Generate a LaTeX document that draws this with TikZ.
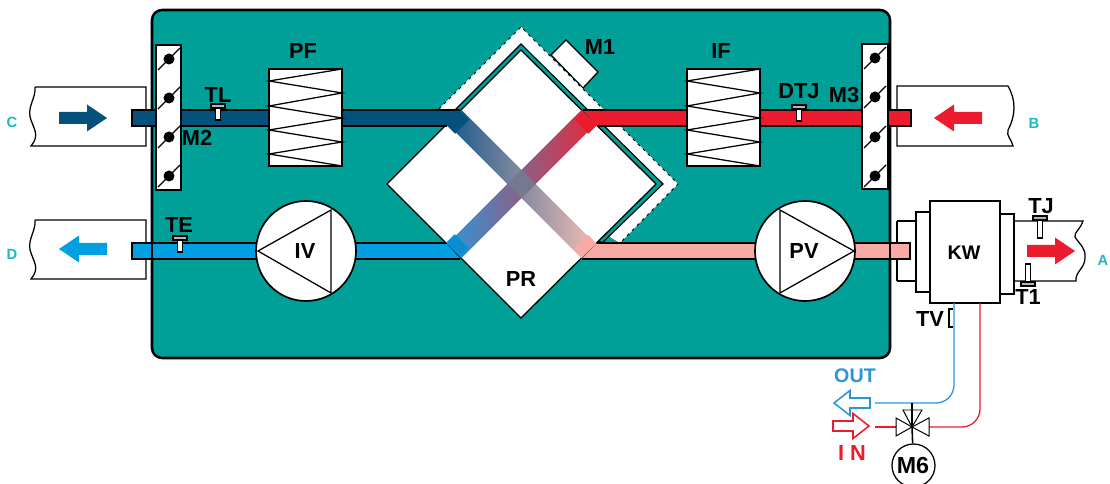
\documentclass[tikz,border=0pt]{standalone}
\usepackage{fontspec}
\setmainfont{Liberation Sans}
\setsansfont{Liberation Sans}
\usepackage{xcolor}
\usetikzlibrary{calc}
\definecolor{Casing}{HTML}{00A099}
\definecolor{FlowDark}{HTML}{04527C}
\definecolor{FlowRed}{HTML}{EC1C2E}
\definecolor{FlowLight}{HTML}{00A0E3}
\definecolor{FlowLightCap}{HTML}{0B8ED0}
\definecolor{FlowSalmon}{HTML}{F7ABA4}
\definecolor{BandDark}{HTML}{16598A}
\definecolor{BandLight}{HTML}{2E97D8}
\definecolor{BandRed}{HTML}{E8283A}
\definecolor{BandSalmon}{HTML}{F5BDB6}
\definecolor{Mixed}{HTML}{76788F}
\definecolor{PipeBlue}{HTML}{2A96D6}
\definecolor{Portname}{HTML}{1DB9C3}
\definecolor{Sensorhead}{HTML}{B5B5B5}
\tikzset{
damper/.pic={\draw[line width=1pt] (-11,11) -- (11,-11); \fill (0,0) circle[radius=5.5];},
sensor/.pic={\draw[line width=0.8pt, fill=Sensorhead] (-7,-2) rectangle (7,2); \draw[line width=0.9pt, fill=white] (-2.5,2) rectangle (2.5,14);},
longsensor/.pic={\draw[line width=0.8pt, fill=Sensorhead] (-7,-2) rectangle (7,2); \draw[line width=0.9pt, fill=white] (-2.5,2) rectangle (2.5,20);},
flowarrow/.pic={\path[pic actions] (-24,-6) -- (4,-6) -- (4,-13.5) -- (24,0) -- (4,13.5) -- (4,6) -- (-24,6) -- cycle;},
hollowarrow/.pic={\path[pic actions] (-18,-5) -- (2,-5) -- (2,-12.5) -- (18,0) -- (2,12.5) -- (2,5) -- (-18,5) -- cycle;}
}
\begin{document}
\begin{tikzpicture}[x=0.25mm,y=-0.25mm,font=\sffamily,edge/.style={draw=black, line width=1.2pt},thin edge/.style={draw=black, line width=0.9pt},duct/.style={draw=black, line width=0.9pt},whitebox/.style={draw=black, fill=white, line width=1.2pt},tag/.style={text=black, font=\sffamily\bfseries\fontsize{15.5}{16}\selectfont, inner sep=0pt},port/.style={text=Portname, font=\sffamily\bfseries\fontsize{10.5}{11}\selectfont, inner sep=0pt},flowband/.style={minimum width=47.5mm, minimum height=5mm, inner sep=0pt},bandcap/.style={minimum width=3mm, minimum height=5mm, inner sep=0pt},bluepipe/.style={draw=PipeBlue, line width=0.9pt, rounded corners=4.5mm},redpipe/.style={draw=FlowRed, line width=0.9pt, rounded corners=4.5mm}]
\clip (0,0) rectangle (1110,484);
\fill[white] (0,0) rectangle (1110,484);
\draw[draw=black, fill=Casing, line width=1.8pt, rounded corners=2.5mm] (152,10) rectangle (890,358);
\draw[thin edge, fill=white] (551,55) -- (566,40) -- (598,72) -- (583,88) -- cycle;
\fill[white] (439,109) -- (521,27) -- (678,184) -- (620,243) -- (521,184) -- cycle;
\draw[draw=black, line width=0.7pt, dash pattern=on 2pt off 3pt] (439,109) -- (521,27) -- (678,184) -- (620,243);
\draw[draw=black, fill=Casing, line width=0.8pt] (455,110) -- (521,44) -- (663,184) -- (602,243) -- (521,184) -- cycle;
\draw[thin edge, fill=white] (521,50) -- (656,184) -- (521,318) -- (387,184) -- cycle;
\node[flowband, rotate=-45, left color=BandDark, middle color=Mixed, right color=BandSalmon] (bandout) at (521.5,184) {};
\node[flowband, rotate=45, left color=BandLight, middle color=Mixed, right color=BandRed] (bandin) at (521.5,184) {};
\node[rotate=45, fill=Mixed, minimum width=5mm, minimum height=5mm, inner sep=0pt] (bandcross) at (521.5,184) {};
\node[bandcap, rotate=-45, fill=FlowDark] (capdark) at (458,122.5) {};
\node[bandcap, rotate=-45, fill=FlowSalmon] (capsalmon) at (585,246) {};
\node[bandcap, rotate=45, fill=FlowLightCap] (caplight) at (457.5,245.5) {};
\node[bandcap, rotate=45, fill=FlowRed] (capred) at (585.5,122.5) {};
\draw[duct, fill=FlowDark] (460,110) -- (132,110) -- (132,126) -- (447,126);
\draw[duct, fill=FlowRed] (583,110) -- (911,110) -- (911,126) -- (597,126);
\draw[duct, fill=FlowLight] (446,243) -- (132,243) -- (132,259) -- (460,259);
\draw[duct, fill=FlowSalmon] (597,243) -- (910,243) -- (910,259) -- (582,259);
\draw[whitebox] (156,45) rectangle (181,190);
\pic at (169,59) {damper}; \pic at (169,98) {damper}; \pic at (169,137) {damper}; \pic at (169,176) {damper};
\draw[whitebox] (862,44) rectangle (888,189);
\pic at (875,58) {damper}; \pic at (875,97) {damper}; \pic at (875,137) {damper}; \pic at (875,176) {damper};
\draw[whitebox] (269,69) rectangle (342,166);
\draw[thin edge] (342,69) -- (269,81) -- (342,93) -- (269,106) -- (342,118) -- (269,130) -- (342,142) -- (269,154) -- (342,166);
\draw[whitebox] (687,69) rectangle (760,166);
\draw[thin edge] (760,69) -- (687,81) -- (760,93) -- (687,106) -- (760,118) -- (687,130) -- (760,142) -- (687,154) -- (760,166);
\draw[whitebox] (306,251) circle[radius=50];
\draw[thin edge] (258,251) -- (331,210) -- (331,293) -- cycle;
\draw[whitebox] (805,251) circle[radius=50];
\draw[thin edge] (854,251) -- (780,210) -- (780,293) -- cycle;
\draw[thin edge] (35,87) -- (146,87) -- (146,146) -- (31,146) .. controls (40,135) and (34,130) .. (30,117) .. controls (28,105) and (36,98) .. (35,87);
\draw[thin edge] (35,220) -- (146,220) -- (146,279) -- (31,279) .. controls (40,268) and (34,263) .. (30,250) .. controls (28,238) and (36,231) .. (35,220);
\draw[thin edge] (897,86) -- (1008,86) .. controls (1016,100) and (1016,115) .. (1008,130) .. controls (1006,136) and (1012,140) .. (1013,146) -- (897,146) -- cycle;
\draw[duct, fill=FlowDark] (132,110) -- (156,110) -- (156,126) -- (132,126) -- cycle;
\draw[duct, fill=FlowRed] (888,110) -- (911,110) -- (911,126) -- (888,126) -- cycle;
\draw[duct, fill=FlowLight] (132,243) -- (152,243) -- (152,259) -- (132,259) -- cycle;
\draw[duct, fill=FlowSalmon] (890,243) -- (910,243) -- (910,259) -- (890,259) -- cycle;
\pic[fill=FlowDark] at (83,118) {flowarrow};
\pic[fill=FlowLight, rotate=180] at (83,249) {flowarrow};
\pic[fill=FlowRed, rotate=180] at (958,118) {flowarrow};
\pic[fill=FlowRed] at (1051,251) {flowarrow};
\pic at (218,106) {sensor};
\pic at (180,238) {sensor};
\pic at (799,107) {sensor};
\draw[thin edge] (897,221) -- (917,221) -- (917,281) -- (897,281);
\draw[thin edge] (1014,221) -- (1083,221) .. controls (1080,230) and (1074,232) .. (1075,237) .. controls (1080,245) and (1086,248) .. (1085,258) .. controls (1085,268) and (1075,272) .. (1076,281) -- (1014,281);
\draw[thin edge] (897,221) -- (897,243);
\draw[thin edge] (897,259) -- (897,281);
\draw[thin edge, fill=white] (916,212) rectangle (930,292);
\draw[thin edge, fill=white] (1000,214) rectangle (1014,294);
\node[whitebox, minimum width=17.5mm, minimum height=25.5mm, inner sep=0pt, tag] (kw) at (965,252) {};
\node[tag, font=\sffamily\bfseries\fontsize{14}{15}\selectfont] (kwtext) at (964,253) {KW};
\pic at (1040,218) {longsensor};
\pic[rotate=180] at (1028,284) {longsensor};
\draw[line width=1pt, draw=black] (953,309) -- (949,309) -- (949,327) -- (953,327);
\coordinate (kwout) at (954,303);
\coordinate (kwin) at (980,303);
\coordinate (outtail) at (875,403);
\coordinate (intail) at (875,427);
\coordinate (valvein) at (929,427);
\coordinate (valveleft) at (896,427);
\coordinate (valve) at (912,427);
\draw[bluepipe] (kwout) |- (outtail);
\draw[redpipe] (kwin) |- (valvein);
\draw[draw=FlowRed, line width=0.9pt] (intail) -- (valveleft);
\draw[line width=0.7pt, draw=black, fill=white] (valve) -- (903,410) -- (922,410) -- cycle;
\draw[line width=0.7pt, draw=black, fill=white] (valve) -- (896,418) -- (896,436) -- cycle;
\draw[line width=0.7pt, draw=black, fill=white] (valve) -- (929,418) -- (929,436) -- cycle;
\node[draw=black, fill=white, circle, line width=0.9pt, minimum size=10.75mm, inner sep=0pt] (motor) at (913.5,465.5) {};
\node[tag, font=\sffamily\bfseries\fontsize{16.5}{17}\selectfont] (motortext) at (913,466) {M6};
\draw[line width=1.1pt, draw=black] (valve) -- (motor);
\draw[line width=1.1pt, draw=black] (valve) -- (912,403);
\pic[draw=PipeBlue, fill=white, line width=1.1pt, rotate=180] at (852,403) {hollowarrow};
\pic[draw=FlowRed, fill=white, line width=1.1pt] at (851,426) {hollowarrow};
\node[tag, text=PipeBlue, font=\sffamily\bfseries\fontsize{14}{15}\selectfont] (outtext) at (855,376) {OUT};
\node[tag, text=FlowRed] (intext) at (852,453) {I N};
\node[tag] (pftext) at (303,51) {PF};
\node[tag] (iftext) at (721,51) {IF};
\node[tag] (m1text) at (600,47) {M1};
\node[tag] (prtext) at (521,279) {PR};
\node[tag] (ivtext) at (305,251) {IV};
\node[tag] (pvtext) at (804,251) {PV};
\node[tag] (m2text) at (197,138) {M2};
\node[tag] (m3text) at (844,95) {M3};
\node[tag] (tltext) at (218,95) {TL};
\node[tag] (tetext) at (179,225) {TE};
\node[tag] (dtjtext) at (799,91) {DTJ};
\node[tag] (tjtext) at (1041,206) {TJ};
\node[tag] (t1text) at (1028,297) {T1};
\node[tag] (tvtext) at (930,319) {TV};
\node[port] (cport) at (12,122) {C};
\node[port] (dport) at (12,254) {D};
\node[port] (bport) at (1034,123) {B};
\node[port] (aport) at (1103,260) {A};
\end{tikzpicture}
\end{document}
